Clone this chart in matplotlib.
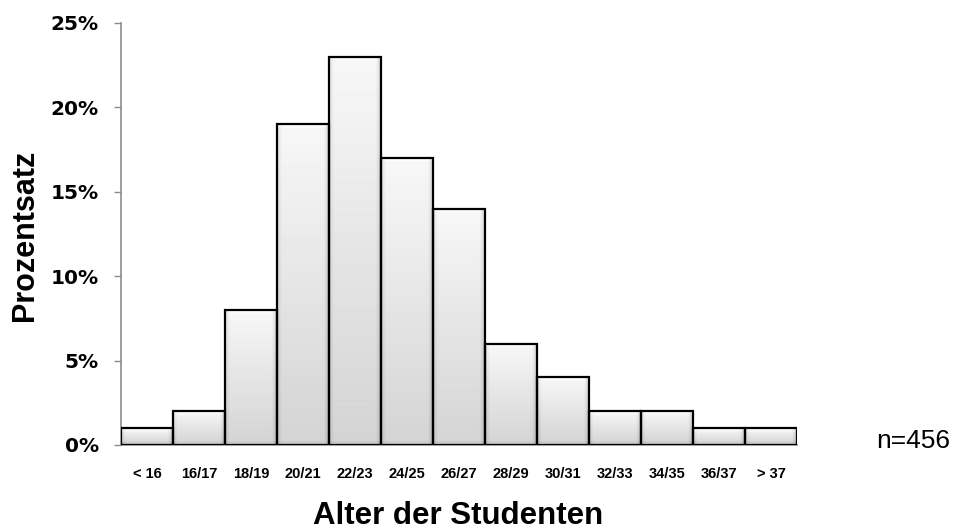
import numpy as np
import matplotlib
matplotlib.use("Agg")
import matplotlib.pyplot as plt
from matplotlib.ticker import FuncFormatter

# Age groups of the students and share in percent
age_groups = ['< 16', '16/17', '18/19', '20/21', '22/23', '24/25', '26/27',
              '28/29', '30/31', '32/33', '34/35', '36/37', '> 37']
percent = [1, 2, 8, 19, 23, 17, 14, 6, 4, 2, 2, 1, 1]
n_total = 456

fig = plt.figure(figsize=(9.58, 5.29), dpi=100)
ax = fig.add_axes([121 / 958, 84 / 529, 676 / 958, 422 / 529])

x = np.arange(len(age_groups))
bars = ax.bar(x, percent, width=1.0, facecolor='none', edgecolor='black',
              linewidth=1.6, zorder=3)

ax.set_xlim(-0.5, len(age_groups) - 0.5)
ax.set_ylim(0, 25)
ax.set_yticks(range(0, 26, 5))
ax.yaxis.set_major_formatter(FuncFormatter(lambda v, _: f'{v:.0f}%'))
ax.set_xticks(x)
ax.set_xticklabels(age_groups)

for side in ('top', 'right'):
    ax.spines[side].set_visible(False)
for side in ('left', 'bottom'):
    ax.spines[side].set_color('#8c8c8c')
    ax.spines[side].set_linewidth(1.2)

ax.tick_params(axis='y', length=5, width=1, color='#8c8c8c', pad=11)
ax.tick_params(axis='x', length=0, pad=16)
for lab in ax.get_yticklabels():
    lab.set_fontfamily('DejaVu Sans')
    lab.set_fontweight('bold')
    lab.set_fontsize(14.5)
for lab in ax.get_xticklabels():
    lab.set_fontfamily('Liberation Sans')
    lab.set_fontweight('bold')
    lab.set_fontsize(10.5)

ax.set_xlabel('Alter der Studenten', fontfamily='Liberation Sans',
              fontweight='bold', fontsize=22.5)
ax.set_ylabel('Prozentsatz', fontfamily='Liberation Sans',
              fontweight='bold', fontsize=22)
ax.xaxis.label.set_va('center')
ax.yaxis.label.set_va('center')
ax.xaxis.set_label_coords(0.4985, -0.168)
ax.yaxis.set_label_coords(-0.142, 0.497)

fig.text(913 / 958, 1 - 441 / 529, f'n={n_total}', fontfamily='Liberation Sans',
         fontsize=19, ha='center', va='center')

# bevelled grey gradient inside every bar
fig.canvas.draw()
for patch in bars.patches:
    bb = patch.get_window_extent()
    w = max(int(round(bb.width)), 2)
    h = max(int(round(bb.height)), 2)
    yy = np.linspace(0, 1, h)[:, None]
    xx = np.arange(w)[None, :]
    ypx = np.arange(h)[:, None]
    img = 0.97 - 0.14 * yy + 0 * xx
    # soft darkening toward the sides
    side = np.minimum(xx, w - 1 - xx)
    img = img - 0.07 * np.clip(1 - side / 5.0, 0, 1)
    img = img - 0.05 * np.clip(1 - (w - 1 - xx) / 4.0, 0, 1)
    # highlight at the top, shade at the bottom
    img = img + 0.04 * np.clip(1 - ypx / 4.0, 0, 1)
    img = img - 0.08 * np.clip(1 - (h - 1 - ypx) / 4.0, 0, 1)
    img = np.clip(img, 0, 1)
    x0, y0 = patch.get_x(), patch.get_y()
    im = ax.imshow(img, cmap='gray', vmin=0, vmax=1, aspect='auto',
                   extent=(x0, x0 + patch.get_width(), y0, y0 + patch.get_height()),
                   origin='upper', interpolation='bilinear', zorder=2)
    im.set_clip_path(patch)

ax.set_xlim(-0.5, len(age_groups) - 0.5)
ax.set_ylim(0, 25)

fig.savefig('out.png', dpi=100)
